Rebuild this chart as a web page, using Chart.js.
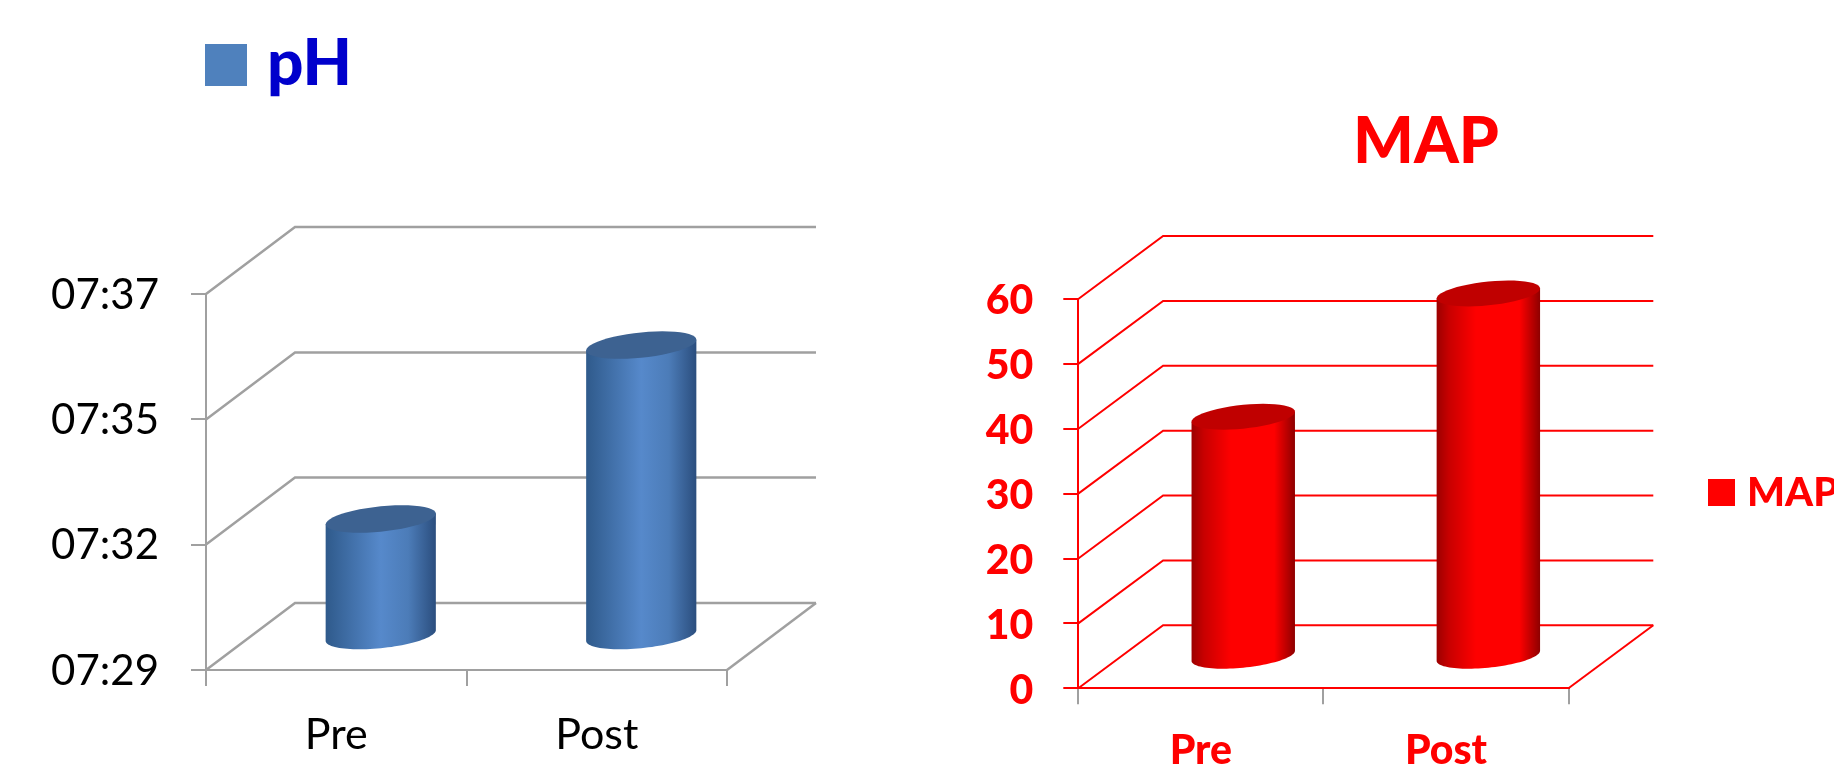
<!DOCTYPE html>
<html>
<head>
<meta charset="utf-8">
<title>pH and MAP</title>
<style>
  html, body { margin: 0; padding: 0; background: #fff; overflow: hidden; }
  canvas { position: absolute; top: 0; display: block; }
  #phChart { left: 0; }
  #mapChart { left: 917px; }
</style>
<script src="https://cdn.jsdelivr.net/npm/chart.js@4/dist/chart.umd.min.js"></script>
</head>
<body>
<canvas id="phChart" width="917" height="765"></canvas>
<canvas id="mapChart" width="917" height="765"></canvas>
<script>
const categories = ["Pre", "Post"];

// pH values, the axis prints them in a time format
const phValues = [7.315, 7.352];
const phTickValues = [7.29, 7.3167, 7.3433, 7.37];
const phTickLabels = ["07:29", "07:32", "07:35", "07:37"];

const mapValues = [37, 56];

const FONT = "Lato, Carlito, sans-serif";

// Draws the slanted walls and the cylinders, bars themselves are left transparent
function depthPlugin(opt) {
  return {
    id: "depth",
    beforeDatasetsDraw(chart) {
      const ctx = chart.ctx;
      const area = chart.chartArea;
      const yScale = chart.scales.y;
      ctx.save();
      ctx.strokeStyle = opt.wallColor;
      ctx.lineWidth = opt.wallWidth;
      yScale.ticks.forEach(function (tick) {
        const y = yScale.getPixelForValue(tick.value);
        ctx.beginPath();
        ctx.moveTo(area.left, y);
        ctx.lineTo(area.left + opt.dx, y - opt.dy);
        ctx.lineTo(area.right + opt.dx, y - opt.dy);
        ctx.stroke();
      });
      // right edge of the floor
      ctx.beginPath();
      ctx.moveTo(area.right, area.bottom);
      ctx.lineTo(area.right + opt.dx, area.bottom - opt.dy);
      ctx.stroke();

      chart.getDatasetMeta(0).data.forEach(function (bar) {
        drawCylinder(ctx, bar.x + opt.dx / 2, bar.y - opt.dy / 2, bar.base - opt.dy / 2, bar.width, opt);
      });
      ctx.restore();
    },
    afterDraw(chart) {
      const ctx = chart.ctx;
      ctx.save();
      ctx.textBaseline = "alphabetic";
      ctx.textAlign = "left";
      const lg = opt.legend;
      ctx.fillStyle = lg.swatch;
      ctx.fillRect(lg.x, lg.y, lg.size, lg.size);
      ctx.fillStyle = lg.color;
      ctx.font = "900 " + lg.fontSize + "px " + FONT;
      ctx.fillText(chart.data.datasets[0].label, lg.textX, lg.baseline);
      if (opt.title) {
        ctx.textAlign = "center";
        ctx.fillStyle = opt.title.color;
        ctx.font = "900 " + opt.title.fontSize + "px " + FONT;
        ctx.fillText(opt.title.text, opt.title.x, opt.title.baseline);
      }
      ctx.restore();
    }
  };
}

function drawCylinder(ctx, cx, top, bottom, width, opt) {
  const rx = width / 2;
  const ry = rx * 0.23;
  const tilt = rx * 0.098;

  // ellipse is sheared so that it rises to the right
  function ellipsePath(cy, from, to) {
    const steps = 48;
    for (let i = 0; i <= steps; i++) {
      const a = from + (to - from) * i / steps;
      const px = cx + rx * Math.cos(a);
      const py = cy + ry * Math.sin(a) - tilt * Math.cos(a);
      ctx.lineTo(px, py);
    }
  }

  const grad = ctx.createLinearGradient(cx - rx, 0, cx + rx, 0);
  opt.stops.forEach(function (s) { grad.addColorStop(s[0], s[1]); });

  ctx.beginPath();
  ctx.moveTo(cx - rx, top + tilt);
  ctx.lineTo(cx - rx, bottom + tilt);
  ellipsePath(bottom, Math.PI, 0);
  ctx.lineTo(cx + rx, top - tilt);
  ctx.closePath();
  ctx.fillStyle = grad;
  ctx.fill();

  ctx.beginPath();
  ctx.moveTo(cx + rx, top - tilt);
  ellipsePath(top, 0, Math.PI * 2);
  ctx.closePath();
  ctx.fillStyle = opt.capColor;
  ctx.fill();
}

function makeChart(id, values, label, yOptions, color, tickFont, xTickColor, layout, opt) {
  return new Chart(document.getElementById(id), {
    type: "bar",
    data: {
      labels: categories,
      datasets: [{
        label: label,
        data: values,
        base: yOptions.min,
        backgroundColor: "rgba(0,0,0,0)",
        categoryPercentage: 1,
        barPercentage: layout.barPercentage
      }]
    },
    plugins: [depthPlugin(opt)],
    options: {
      responsive: false,
      animation: false,
      layout: { padding: { left: 0, right: layout.right, top: layout.top, bottom: 0 } },
      plugins: { legend: { display: false }, tooltip: { enabled: false } },
      scales: {
        x: {
          afterFit(scale) { scale.height = layout.xHeight; },
          border: { color: color.axis, width: 2 },
          grid: { drawOnChartArea: false, color: xTickColor, lineWidth: 2, tickLength: 16 },
          ticks: { color: color.text, font: tickFont, padding: layout.xPad, maxRotation: 0 }
        },
        y: Object.assign({
          afterFit(scale) { scale.width = layout.yWidth; },
          border: { color: color.axis, width: 2 },
          grid: { drawOnChartArea: false, color: color.axis, lineWidth: 2, tickLength: 15 }
        }, yOptions)
      }
    }
  });
}

makeChart("phChart", phValues, "pH",
  {
    min: 7.29,
    max: 7.37,
    afterBuildTicks(scale) {
      scale.ticks = phTickValues.map(function (v) { return { value: v }; });
    },
    ticks: {
      color: "#000000",
      font: { family: FONT, size: 42 },
      padding: 32,
      labelOffset: 1,
      autoSkip: false,
      callback: function (value, index) { return phTickLabels[index]; }
    }
  },
  { axis: "#a0a0a0", text: "#000000" },
  { family: FONT, size: 43 },
  "#a0a0a0",
  { right: 190, top: 294, xHeight: 95, yWidth: 206, xPad: 23, barPercentage: 0.423 },
  {
    dx: 89, dy: 67,
    wallColor: "#a0a0a0",
    wallWidth: 2.5,
    capColor: "#3d6291",
    stops: [[0, "#2f5a8b"], [0.5, "#5689cb"], [0.75, "#4c7cb8"], [1, "#2b4e7e"]],
    legend: { x: 205, y: 44, size: 42, swatch: "#4f81bd", color: "#0000cc", fontSize: 64, textX: 267, baseline: 85 }
  });

makeChart("mapChart", mapValues, "MAP",
  {
    min: 0,
    max: 60,
    ticks: {
      stepSize: 10,
      color: "#ff0000",
      font: { family: FONT, size: 41, weight: "900" },
      padding: 30,
      labelOffset: 2
    }
  },
  { axis: "#ff0000", text: "#ff0000" },
  { family: FONT, size: 41, weight: "900" },
  "#a0a0a0",
  { right: 265.5, top: 299, xHeight: 76.7, yWidth: 161.3, xPad: 22, barPercentage: 0.422 },
  {
    dx: 84.8, dy: 63,
    wallColor: "#ff0000",
    wallWidth: 2,
    capColor: "#c00000",
    stops: [[0, "#9c0000"], [0.12, "#c80000"], [0.38, "#fe0000"], [0.8, "#fe0000"], [1, "#8e0000"]],
    legend: { x: 791, y: 479, size: 27, swatch: "#ff0000", color: "#ff0000", fontSize: 40, textX: 830, baseline: 506 },
    title: { text: "MAP", color: "#ff0000", fontSize: 64, x: 509, baseline: 163 }
  });
</script>
</body>
</html>
